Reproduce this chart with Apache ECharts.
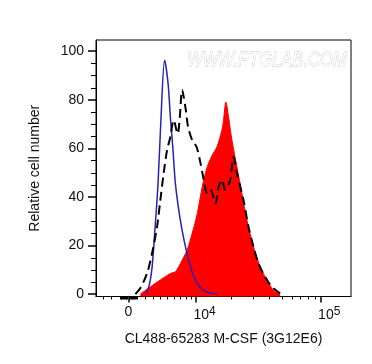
<!DOCTYPE html>
<html>
<head>
<meta charset="utf-8">
<script src="https://cdn.jsdelivr.net/npm/echarts@6/dist/echarts.min.js"></script>
<style>
  html, body { margin: 0; padding: 0; background: #fff; }
  #chart { width: 372px; height: 364px; }
</style>
</head>
<body>
<div id="chart"></div>
<script>
// fluorescence intensity (linear units) / relative cell number
const sampleX = [1420, 2651, 3962, 5402, 6188, 7025, 8214, 9206, 10276, 11385, 12608, 13912, 15240, 16775, 17291, 18091, 18999, 20243, 22204, 24342, 26670, 30064, 33928, 38267, 43066, 48538]
const sampleY = [0, 3, 5.8, 8.5, 9.2, 12.6, 18.1, 25, 33.2, 44.2, 52.4, 57.2, 60.6, 67.5, 71.6, 79.1, 73, 63.4, 52.4, 41.4, 30.5, 19.5, 11.2, 5.8, 1.6, 0]

const controlX = [2150, 2560, 2867, 3203, 3652, 4059, 4562, 5061, 5402, 5819, 6188, 6919, 7773, 8903, 10276, 12150, 15300]
const controlY = [0, 4.4, 11, 25, 45.6, 73, 96.3, 86.7, 73, 59, 45.6, 31.8, 21, 11, 4.4, 1, 0]

const isotypeX = [825, 1420, 2237, 2867, 3518, 3962, 4420, 4911, 5402, 5913, 6563, 6919, 7320, 7900, 8404, 9206, 10115, 10992, 11764, 12608, 13456, 14856, 15718, 16775, 17855, 19611, 20852, 22204, 25066, 27457, 30064, 32904, 37117, 41855, 48538]
const isotypeY = [0, 2.5, 8.6, 16.8, 27.7, 38.7, 49.7, 59.2, 64.7, 71.6, 66, 73, 84, 77, 68.9, 63.4, 60.6, 53.8, 46.9, 41.4, 42.8, 37.3, 44, 47, 42.8, 47, 56.5, 49.7, 38.7, 27.7, 19.5, 12.6, 7.1, 3, 0.3]

const xMajorTicks = [0, 10000, 100000]
const xMinorTicks = [-3000, -2000, -1000, -900, -800, -700, -600, -500, -400, -300, -200, -100,
  100, 200, 300, 400, 500, 600, 700, 800, 900,
  1000, 2000, 3000, 4000, 5000, 6000, 7000, 8000, 9000,
  20000, 30000, 40000, 50000, 60000, 70000, 80000, 90000]
const xRange = [-4030, 171000]

const yMajorTicks = [0, 20, 40, 60, 80, 100]
const yMinorTicks = [5, 10, 15, 25, 30, 35, 45, 50, 55, 65, 70, 75, 85, 90, 95]
const yRange = [-1, 104.6]

// biexponential-like display (arcsinh)
const COF = 6650
function tf(v) { return Math.asinh(v / COF) }
function pairs(xs, ys) { return xs.map((x, i) => [tf(x), ys[i]]) }

const majorT = xMajorTicks.map(tf)
const minorT = xMinorTicks.map(tf)

function xLabel(t) {
    let v = Math.round(Math.sinh(t) * COF)
    if (v === 0) return '0'
    let p = Math.round(Math.log10(v))
    return '{b|10}{s|' + p + '}'
}

const font = '"Liberation Sans", Arial, sans-serif'
const box = { left: 96, top: 40, width: 255, height: 256.5, containLabel: false, outerBoundsMode: 'none' }

var myChart = echarts.init(document.getElementById('chart'))
var option = {
    animation: false,
    grid: [
        Object.assign({ show: true, borderColor: '#000', borderWidth: 1 }, box),
        Object.assign({ show: false }, box)   // overlay grid for minor x ticks
    ],
    xAxis: [{
        type: 'value',
        gridIndex: 0,
        min: tf(xRange[0]), max: tf(xRange[1]),
        name: 'CL488-65283 M-CSF (3G12E6)',
        nameLocation: 'middle', nameGap: 36,
        nameTextStyle: { fontFamily: font, fontSize: 14, color: '#111' },
        axisLine: { show: true, onZero: false, lineStyle: { color: '#000', width: 1 } },
        splitLine: { show: false },
        axisTick: { show: true, customValues: majorT, length: 6, lineStyle: { color: '#000', width: 1.5 } },
        axisLabel: {
            customValues: majorT, margin: 9,
            formatter: xLabel,
            fontFamily: font, fontSize: 14, color: '#111',
            rich: {
                b: { fontFamily: font, fontSize: 14, color: '#111', padding: [0, 0, 0, 17] },
                s: { fontFamily: font, fontSize: 12, color: '#111', verticalAlign: 'bottom', padding: [0, 0, 8, 0] }
            }
        }
    }, {
        // minor x ticks
        type: 'value',
        gridIndex: 1,
        position: 'bottom',
        min: tf(xRange[0]), max: tf(xRange[1]),
        axisLine: { show: false, onZero: false },
        splitLine: { show: false },
        axisLabel: { show: false },
        axisTick: { show: true, customValues: minorT, length: 3, lineStyle: { color: '#000', width: 1 } }
    }],
    yAxis: [{
        type: 'value',
        gridIndex: 0,
        min: yRange[0], max: yRange[1],
        name: 'Relative cell number',
        nameLocation: 'middle', nameGap: 54,
        nameTextStyle: { fontFamily: font, fontSize: 14, color: '#111' },
        axisLine: { show: true, onZero: false, lineStyle: { color: '#000', width: 1 } },
        splitLine: { show: false },
        axisTick: { show: true, customValues: yMajorTicks, length: 8, lineStyle: { color: '#000', width: 1.5 } },
        axisLabel: {
            customValues: yMajorTicks, margin: 12,
            fontFamily: font, fontSize: 14, color: '#111'
        }
    }, {
        type: 'value',
        gridIndex: 1,
        min: yRange[0], max: yRange[1],
        show: false
    }],
    graphic: [{
        id: 'watermark',
        type: 'text',
        x: 187, y: 50, scaleX: 0.79,
        silent: true,
        style: {
            text: 'WWW.PTGLAB.COM',
            font: 'italic 21px ' + font,
            fill: '#fff', stroke: '#c4c4c4', lineWidth: 0.8
        }
    }],
    series: [{
        name: 'sample', type: 'line',
        data: pairs(sampleX, sampleY),
        smooth: 0.3, symbol: 'none',
        lineStyle: { color: '#ff0000', width: 1 },
        areaStyle: { color: '#ff0000', opacity: 1, origin: 'start' },
        z: 1
    }, {
        name: 'control', type: 'line',
        data: pairs(controlX, controlY),
        smooth: 0.3, symbol: 'none',
        lineStyle: { color: '#2323b5', width: 1.5 },
        z: 2
    }, {
        name: 'isotype', type: 'line',
        data: pairs(isotypeX, isotypeY),
        smooth: 0.3, symbol: 'none',
        lineStyle: { color: '#000', width: 2, type: [9, 5] },
        z: 3
    }]
}
myChart.setOption(option)

// minor y ticks, placed through the y axis scale
let axisX = box.left
let minorYTicks = yMinorTicks.map(function (v, i) {
    let py = Math.round(myChart.convertToPixel({ yAxisIndex: 0 }, v)) + 0.5
    return {
        id: 'ymin' + i, type: 'line', silent: true, z: 100,
        shape: { x1: axisX - 5, y1: py, x2: axisX, y2: py },
        style: { stroke: '#000', lineWidth: 1 }
    }
})
myChart.setOption({ graphic: minorYTicks })
</script>
</body>
</html>
